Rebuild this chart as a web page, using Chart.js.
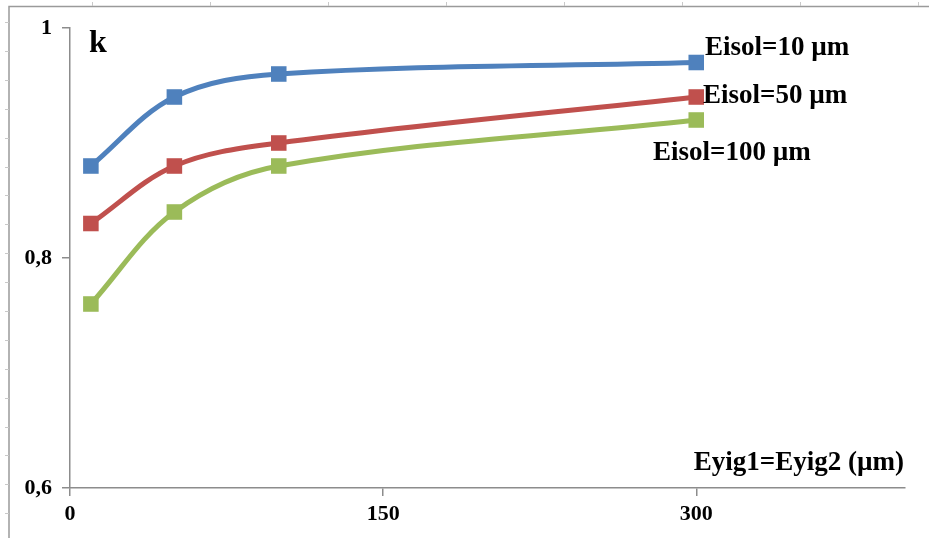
<!DOCTYPE html>
<html>
<head>
<meta charset="utf-8">
<script src="https://cdn.jsdelivr.net/npm/chart.js@4/dist/chart.umd.min.js"></script>
<style>
  html, body { margin: 0; padding: 0; background: #fff; }
  #wrap { width: 929px; height: 538px; position: relative; }
</style>
</head>
<body>
<div id="wrap"><canvas id="c" width="929" height="538"></canvas></div>
<script>
// ---- data ----
const xValues = [10, 50, 100, 300];
const seriesNames = ["Eisol=10 µm", "Eisol=50 µm", "Eisol=100 µm"];
const eisol10 = [0.88, 0.94, 0.96, 0.97];
const eisol50 = [0.83, 0.88, 0.90, 0.94];
const eisol100 = [0.76, 0.84, 0.88, 0.92];
const xTicks = [0, 150, 300];
const yTicks = [0.6, 0.8, 1];
const yLabel = "k";
const xLabel = "Eyig1=Eyig2 (µm)";

const colors = ["#4F81BD", "#C0504D", "#9BBB59"];
const serif = "'Liberation Serif', 'Times New Roman', serif";

function pts(ys) { return xValues.map((x, i) => ({ x: x, y: ys[i] })); }

const labelPlugin = {
  id: 'labels',
  beforeDraw(chart) {
    const ctx = chart.ctx;
    ctx.save();
    ctx.fillStyle = '#fff';
    ctx.fillRect(0, 0, chart.width, chart.height);
    // document frame
    ctx.strokeStyle = '#9a9a9a';
    ctx.lineWidth = 1.5;
    ctx.beginPath();
    ctx.moveTo(9, 538); ctx.lineTo(9, 6.5); ctx.lineTo(929, 6.5);
    ctx.stroke();
    ctx.strokeStyle = '#c8c8c8';
    ctx.lineWidth = 1;
    for (let y = 22; y < 538; y += 28.9) {
      ctx.beginPath(); ctx.moveTo(5, Math.round(y) + 0.5); ctx.lineTo(9, Math.round(y) + 0.5); ctx.stroke();
    }
    for (let x = 92; x < 929; x += 118) {
      ctx.beginPath(); ctx.moveTo(Math.round(x) + 0.5, 2); ctx.lineTo(Math.round(x) + 0.5, 6); ctx.stroke();
    }
    ctx.restore();
  },
  afterDraw(chart) {
    const ctx = chart.ctx;
    ctx.save();
    ctx.fillStyle = '#000';
    ctx.textBaseline = 'middle';
    ctx.textAlign = 'left';
    ctx.font = "bold 32px " + serif;
    ctx.fillText(yLabel, 89, 44);
    ctx.font = "bold 27px " + serif;
    ctx.fillText(seriesNames[0], 705, 48);
    ctx.fillText(seriesNames[1], 703, 96);
    ctx.fillText(seriesNames[2], 653, 153);
    ctx.textAlign = 'right';
    ctx.fillText(xLabel, 904, 463);
    ctx.restore();
  }
};

const fmt = v => String(v).replace('.', ',');

new Chart(document.getElementById('c'), {
  type: 'line',
  data: {
    datasets: [eisol10, eisol50, eisol100].map((d, i) => ({
      label: seriesNames[i],
      data: pts(d),
      borderColor: colors[i],
      backgroundColor: colors[i],
      borderWidth: 5,
      pointStyle: 'rect',
      pointRadius: 11,
      pointHoverRadius: 11,
      pointBorderWidth: 0,
      tension: 0.35,
      fill: false
    }))
  },
  options: {
    responsive: false,
    animation: false,
    events: [],
    layout: { padding: { top: 28, right: 24, left: 0, bottom: 0 } },
    plugins: { legend: { display: false }, tooltip: { enabled: false } },
    scales: {
      x: {
        type: 'linear',
        min: 0, max: 400,
        afterBuildTicks: a => { a.ticks = xTicks.map(v => ({ value: v })); },
        afterFit: a => { a.height = 50; },
        grid: { drawOnChartArea: false, drawTicks: true, tickLength: 8, color: '#8c8c8c', lineWidth: 1.5 },
        border: { display: true, color: '#8c8c8c', width: 1.5 },
        ticks: { color: '#000', padding: 5, maxRotation: 0, font: { family: serif, size: 22, weight: 'bold' }, callback: v => fmt(v) }
      },
      y: {
        type: 'linear',
        min: 0.6, max: 1,
        afterBuildTicks: a => { a.ticks = yTicks.map(v => ({ value: v })); },
        afterFit: a => { a.width = 70; },
        grid: { drawOnChartArea: false, drawTicks: true, tickLength: 8, color: '#8c8c8c', lineWidth: 1.5 },
        border: { display: true, color: '#8c8c8c', width: 1.5 },
        ticks: { color: '#000', padding: 10, font: { family: serif, size: 22, weight: 'bold' }, callback: v => fmt(v) }
      }
    }
  },
  plugins: [labelPlugin]
});
</script>
</body>
</html>
